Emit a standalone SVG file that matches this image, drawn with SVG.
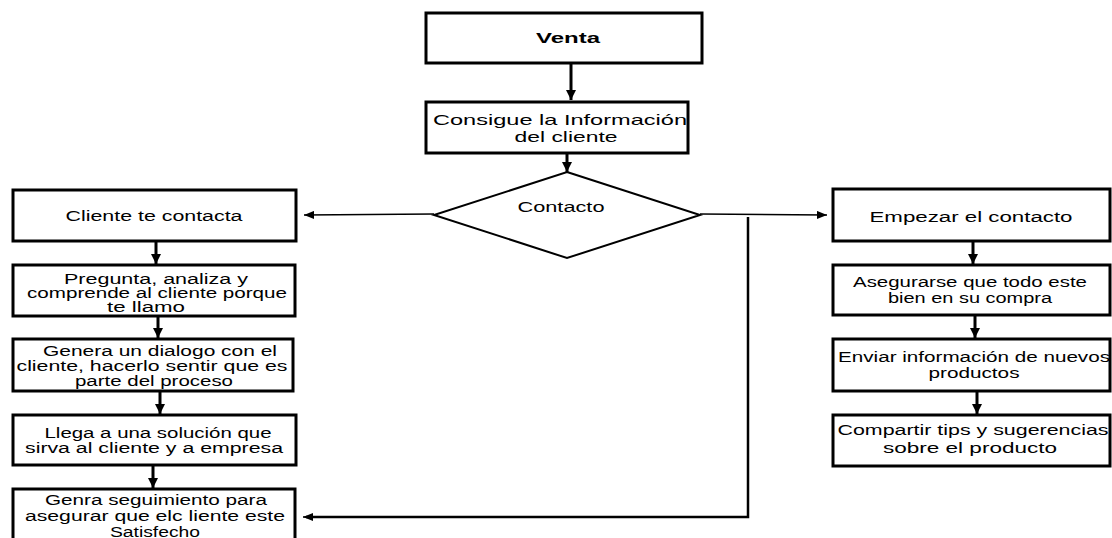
<svg xmlns="http://www.w3.org/2000/svg" width="1112" height="538" viewBox="0 0 1112 538">
<style>
.box{fill:#fff;stroke:#000;stroke-width:3}
.dia{fill:#fff;stroke:#000;stroke-width:2}
.t{font-family:"Liberation Sans",Arial,sans-serif;font-size:14px;fill:#000;text-anchor:middle}
.b{font-weight:bold;font-size:15px}
.c{stroke:#000;fill:none}
.thick{stroke-width:3}
.thin{stroke-width:1.5}
</style>
<defs>
<marker id="ah" markerUnits="userSpaceOnUse" markerWidth="10" markerHeight="10" viewBox="0 0 10 10" refX="10" refY="5" orient="auto">
<path d="M0,0 L10,5 L0,10 Z" fill="#000"/>
</marker>
<marker id="ahs" markerUnits="userSpaceOnUse" markerWidth="10" markerHeight="8" viewBox="0 0 10 8" refX="10" refY="4" orient="auto">
<path d="M0,0 L10,4 L0,8 Z" fill="#000"/>
</marker>
</defs>
<g id="connectors">
<line class="c thick" x1="571" y1="63" x2="571" y2="100" marker-end="url(#ah)"/>
<line class="c thick" x1="567" y1="153" x2="567" y2="172" marker-end="url(#ah)"/>
<line class="c thin" x1="434" y1="214" x2="304" y2="215" marker-end="url(#ahs)"/>
<line class="c thin" x1="700" y1="214" x2="827" y2="215" marker-end="url(#ahs)"/>
<line class="c thick" x1="156" y1="241" x2="156" y2="264" marker-end="url(#ah)"/>
<line class="c thick" x1="158" y1="316" x2="158" y2="338" marker-end="url(#ah)"/>
<line class="c thick" x1="160" y1="391" x2="160" y2="414" marker-end="url(#ah)"/>
<line class="c thick" x1="153" y1="465" x2="153" y2="488" marker-end="url(#ah)"/>
<polyline class="c" stroke-width="2.5" points="748,217 748,517 306,517"/>
<line class="c thin" x1="310" y1="517" x2="303" y2="517" marker-end="url(#ahs)"/>
<line class="c thick" x1="973" y1="241" x2="973" y2="264" marker-end="url(#ah)"/>
<line class="c thick" x1="975" y1="315" x2="975" y2="338" marker-end="url(#ah)"/>
<line class="c thick" x1="977" y1="391" x2="977" y2="414" marker-end="url(#ah)"/>
</g>
<g id="venta">
<rect class="box" x="426" y="13" width="276" height="50"/>
<text class="t b" x="568" y="43" textLength="64" lengthAdjust="spacingAndGlyphs">Venta</text>
</g>
<g id="consigue">
<rect class="box" x="426" y="102" width="262" height="51"/>
<text class="t" style="font-size:15px" x="560" y="125" textLength="254" lengthAdjust="spacingAndGlyphs">Consigue la Información</text>
<text class="t" style="font-size:15px" x="566" y="142" textLength="103" lengthAdjust="spacingAndGlyphs">del cliente</text>
</g>
<g id="contacto">
<polygon class="dia" points="567,172 700,215 567,258 434,215"/>
<text class="t" x="561" y="212" textLength="87" lengthAdjust="spacingAndGlyphs">Contacto</text>
</g>
<g id="cliente-contacta">
<rect class="box" x="13" y="190" width="283" height="51"/>
<text class="t" x="154" y="221" textLength="177" lengthAdjust="spacingAndGlyphs">Cliente te contacta</text>
</g>
<g id="pregunta">
<rect class="box" x="13" y="265" width="282" height="51"/>
<text class="t" x="156" y="284" textLength="184" lengthAdjust="spacingAndGlyphs">Pregunta, analiza y</text>
<text class="t" x="157" y="298" textLength="260" lengthAdjust="spacingAndGlyphs">comprende al cliente porque</text>
<text class="t" x="146" y="312" textLength="78" lengthAdjust="spacingAndGlyphs">te llamo</text>
</g>
<g id="genera">
<rect class="box" x="13" y="339" width="280" height="52"/>
<text class="t" x="160" y="356" textLength="234" lengthAdjust="spacingAndGlyphs">Genera un dialogo con el</text>
<text class="t" x="152" y="371" textLength="271" lengthAdjust="spacingAndGlyphs">cliente, hacerlo sentir que es</text>
<text class="t" x="154" y="386" textLength="158" lengthAdjust="spacingAndGlyphs">parte del proceso</text>
</g>
<g id="llega">
<rect class="box" x="13" y="415" width="283" height="50"/>
<text class="t" x="158" y="438" textLength="227" lengthAdjust="spacingAndGlyphs">Llega a una solución que</text>
<text class="t" x="154" y="453" textLength="258" lengthAdjust="spacingAndGlyphs">sirva al cliente y a empresa</text>
</g>
<g id="genra">
<rect class="box" x="13" y="489" width="282" height="60"/>
<text class="t" x="156" y="505" textLength="222" lengthAdjust="spacingAndGlyphs">Genra seguimiento para</text>
<text class="t" x="155" y="521" textLength="260" lengthAdjust="spacingAndGlyphs">asegurar que elc liente este</text>
<text class="t" x="155" y="537" textLength="90" lengthAdjust="spacingAndGlyphs">Satisfecho</text>
</g>
<g id="empezar">
<rect class="box" x="833" y="189" width="277" height="52"/>
<text class="t" x="971" y="222" textLength="203" lengthAdjust="spacingAndGlyphs">Empezar el contacto</text>
</g>
<g id="asegurarse">
<rect class="box" x="833" y="265" width="277" height="50"/>
<text class="t" x="970" y="287" textLength="234" lengthAdjust="spacingAndGlyphs">Asegurarse que todo este</text>
<text class="t" x="970" y="303" textLength="164" lengthAdjust="spacingAndGlyphs">bien en su compra</text>
</g>
<g id="enviar">
<rect class="box" x="833" y="339" width="277" height="52"/>
<text class="t" x="974" y="362" textLength="272" lengthAdjust="spacingAndGlyphs">Enviar información de nuevos</text>
<text class="t" x="974" y="378" textLength="91" lengthAdjust="spacingAndGlyphs">productos</text>
</g>
<g id="compartir">
<rect class="box" x="833" y="415" width="277" height="51"/>
<text class="t" x="973" y="435" textLength="271" lengthAdjust="spacingAndGlyphs">Compartir tips y sugerencias</text>
<text class="t" x="970" y="453" textLength="174" lengthAdjust="spacingAndGlyphs">sobre el producto</text>
</g>
</svg>
